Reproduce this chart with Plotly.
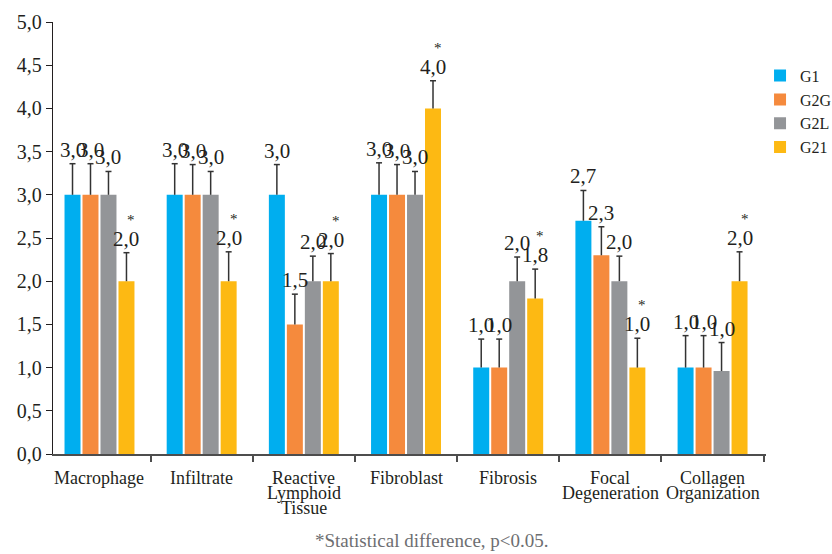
import plotly.graph_objects as go

# ---- data ---------------------------------------------------------------
CATEGORIES = [
    ["Macrophage"],
    ["Infiltrate"],
    ["Reactive", "Lymphoid", "Tissue"],
    ["Fibroblast"],
    ["Fibrosis"],
    ["Focal", "Degeneration"],
    ["Collagen", "Organization"],
]
GROUPS = ["G1", "G2G", "G2L", "G21"]

G1 = [3.0, 3.0, 3.0, 3.0, 1.0, 2.7, 1.0]
G2G = [3.0, 3.0, 1.5, 3.0, 1.0, 2.3, 1.0]
G2L = [3.0, 3.0, 2.0, 3.0, 2.0, 2.0, 0.96]
G21 = [2.0, 2.0, 2.0, 4.0, 1.8, 1.0, 2.0]

G1_ERR = [0.36, 0.36, 0.35, 0.37, 0.33, 0.35, 0.37]
G2G_ERR = [0.36, 0.35, 0.35, 0.35, 0.33, 0.33, 0.37]
G2L_ERR = [0.27, 0.27, 0.29, 0.27, 0.28, 0.29, 0.33]
G21_ERR = [0.33, 0.34, 0.32, 0.32, 0.34, 0.34, 0.34]

# G21 differs significantly from the others in every category
G21_SIGNIFICANT = [True, True, True, True, True, True, True]

Y_TICKS = [0.0, 0.5, 1.0, 1.5, 2.0, 2.5, 3.0, 3.5, 4.0, 4.5, 5.0]
FOOTNOTE = "*Statistical difference, p<0.05."

COLORS = ["#00aeef", "#f58a3d", "#939598", "#fdb913"]

# ---- geometry of the grouped bars (in category units) ------------------
PX_PER_CAT = 102.25
SLOT = 18 / PX_PER_CAT        # bar + gap
BAR_W = 16 / PX_PER_CAT
GROUP_START = -35 / PX_PER_CAT
CAP_HALF = 3 / PX_PER_CAT

FONT = "Liberation Serif"
INK = "#231f20"

values = [G1, G2G, G2L, G21]
errors = [G1_ERR, G2G_ERR, G2L_ERR, G21_ERR]
xpos = list(range(len(CATEGORIES)))

fig = go.Figure()

for k, (name, vals, col) in enumerate(zip(GROUPS, values, COLORS)):
    fig.add_trace(go.Bar(
        x=xpos, y=vals, name=name,
        width=BAR_W, offset=GROUP_START + k * SLOT,
        marker=dict(color=col, line=dict(width=0)),
    ))

# upper error whiskers and value labels
annotations = []
for k, (vals, errs) in enumerate(zip(values, errors)):
    ex, ey = [], []
    for i, (v, e) in enumerate(zip(vals, errs)):
        cx = i + GROUP_START + k * SLOT + BAR_W / 2
        top = v + e
        ex += [cx, cx, None, cx - CAP_HALF, cx + CAP_HALF, None]
        ey += [v, top, None, top, top, None]
        annotations.append(dict(
            x=cx, y=top, xref="x", yref="y", text=f"{v:.1f}".replace(".", ","),
            showarrow=False, yanchor="bottom", xanchor="center",
            font=dict(family=FONT, size=21, color=INK),
        ))
        if k == 3 and G21_SIGNIFICANT[i]:
            annotations.append(dict(
                x=cx, y=top, xref="x", yref="y", text="*",
                showarrow=False, yanchor="middle", xanchor="center",
                xshift=5, yshift=33,
                font=dict(family=FONT, size=15, color=INK),
            ))
    fig.add_trace(go.Scatter(
        x=ex, y=ey, mode="lines", showlegend=False, hoverinfo="skip",
        line=dict(color="#333333", width=1.5),
    ))

# category labels, one annotation per line for tight leading
LINE_STEP = 15
for i, lines in enumerate(CATEGORIES):
    for j, line in enumerate(lines):
        annotations.append(dict(
            x=i, y=0, xref="x", yref="y", text=line, showarrow=False,
            xanchor="center", yanchor="middle", yshift=-(24 + j * LINE_STEP),
            font=dict(family=FONT, size=18, color=INK),
        ))

annotations.append(dict(
    x=0.5316, y=-0.2, xref="paper", yref="paper", text=FOOTNOTE,
    showarrow=False, xanchor="center", yanchor="middle",
    font=dict(family=FONT, size=19, color="#6d6e71"),
))

fig.update_layout(
    width=832, height=554,
    margin=dict(l=53, r=66, t=22, b=100, autoexpand=False),
    paper_bgcolor="white", plot_bgcolor="white",
    barmode="overlay",
    separators=",.",
    font=dict(family=FONT, size=18, color=INK),
    showlegend=True,
    legend=dict(
        xref="container", yref="container",
        x=0.9135, y=0.894, xanchor="left", yanchor="top",
        font=dict(family=FONT, size=16, color=INK),
        itemwidth=30, tracegroupgap=0, bgcolor="rgba(0,0,0,0)",
    ),
    annotations=annotations,
)

fig.update_xaxes(
    range=[-0.455, 6.523], showgrid=False, zeroline=False,
    showline=True, linecolor="#4d4d4d", linewidth=1.5,
    tickmode="array", tickvals=[i + 0.5 for i in xpos],
    ticks="outside", ticklen=6, tickwidth=1.5, tickcolor="#4d4d4d",
    showticklabels=False,
)
fig.update_yaxes(
    range=[0, 5], showgrid=False, zeroline=False,
    showline=True, linecolor=INK, linewidth=1.3,
    tickmode="array", tickvals=Y_TICKS, tickformat=".1f",
    ticks="outside", ticklen=6, tickwidth=1.3, tickcolor=INK,
    tickfont=dict(family=FONT, size=20, color=INK),
)

fig.write_html("out.html")
